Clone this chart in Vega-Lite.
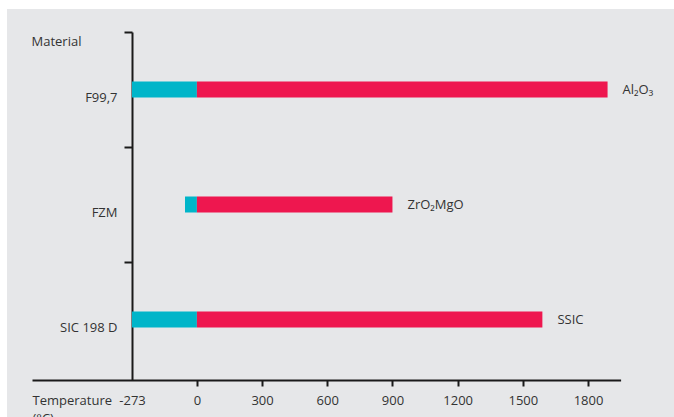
{
  "$schema": "https://vega.github.io/schema/vega-lite/v6.json",
  "width": 667,
  "height": 408,
  "autosize": "none",
  "padding": {"left": 7, "top": 9, "right": 0, "bottom": 0},
  "background": "white",
  "config": {"view": {"fill": "#e6e7e9", "stroke": null}, "font": "Open Sans"},
  "data": {
    "values": [
      {"material": "F99,7", "part": "cold", "from": -273, "to": 0, "label": ""},
      {"material": "F99,7", "part": "hot", "from": 0, "to": 1890, "label": "Al₂O₃"},
      {"material": "FZM", "part": "cold", "from": -50, "to": 0, "label": ""},
      {"material": "FZM", "part": "hot", "from": 0, "to": 900, "label": "ZrO₂MgO"},
      {"material": "SIC 198 D", "part": "cold", "from": -273, "to": 0, "label": ""},
      {"material": "SIC 198 D", "part": "hot", "from": 0, "to": 1590, "label": "SSIC"}
    ]
  },
  "encoding": {
    "y": {
      "field": "material",
      "type": "nominal",
      "sort": null,
      "scale": {"range": [23, 371], "paddingInner": 0, "paddingOuter": 0.013, "align": 0},
      "axis": {
        "orient": "left",
        "offset": -125,
        "domainColor": "#1a1a1a",
        "domainWidth": 2,
        "ticks": true,
        "tickBand": "extent",
        "tickSize": 8,
        "tickWidth": 2,
        "tickColor": {"condition": {"test": "datum.index === 1", "value": "transparent"}, "value": "#1a1a1a"},
        "labelPadding": 7,
        "labelOffset": 7.5,
        "labelFontSize": 13,
        "labelColor": "#333333",
        "grid": false,
        "title": "Material",
        "titleAngle": 0,
        "titleX": -101,
        "titleY": 36,
        "titleAlign": "left",
        "titleBaseline": "alphabetic",
        "titleFontWeight": "normal",
        "titleFontSize": 13,
        "titleColor": "#333333"
      }
    }
  },
  "layer": [
    {
      "mark": {"type": "bar", "size": 16},
      "encoding": {
        "x": {
          "field": "from",
          "type": "quantitative",
          "scale": {"domain": [-600, -273, 0, 1950], "range": [25, 125, 189.9, 613.6], "nice": false, "zero": false},
          "axis": {
            "values": [-273, 0, 300, 600, 900, 1200, 1500, 1800],
            "offset": -37,
            "labelExpr": "'' + datum.value",
            "domainColor": "#1a1a1a",
            "domainWidth": 2,
            "tickColor": {"condition": {"test": "datum.value === -273", "value": "transparent"}, "value": "#1a1a1a"},
            "tickWidth": 2,
            "tickSize": 6,
            "labelFontSize": 13,
            "labelColor": "#333333",
            "labelBaseline": "alphabetic",
            "labelPadding": 18,
            "labelFlush": false,
            "labelOverlap": false,
            "grid": false,
            "title": ["Temperature", "(°C)"],
            "titleX": 25,
            "titleY": 24,
            "titleAlign": "left",
            "titleAnchor": null,
            "titleBaseline": "alphabetic",
            "titleFontWeight": "normal",
            "titleFontSize": 13,
            "titleColor": "#333333",
            "titleLineHeight": 18
          }
        },
        "x2": {"field": "to"},
        "color": {
          "field": "part",
          "type": "nominal",
          "scale": {"domain": ["cold", "hot"], "range": ["#00b5c9", "#ee174f"]},
          "legend": null
        }
      }
    },
    {
      "transform": [{"filter": "datum.part === 'hot'"}],
      "mark": {"type": "text", "align": "left", "baseline": "middle", "dx": 15, "fontSize": 13, "color": "#333333"},
      "encoding": {
        "x": {"field": "to", "type": "quantitative"},
        "text": {"field": "label"}
      }
    }
  ]
}
